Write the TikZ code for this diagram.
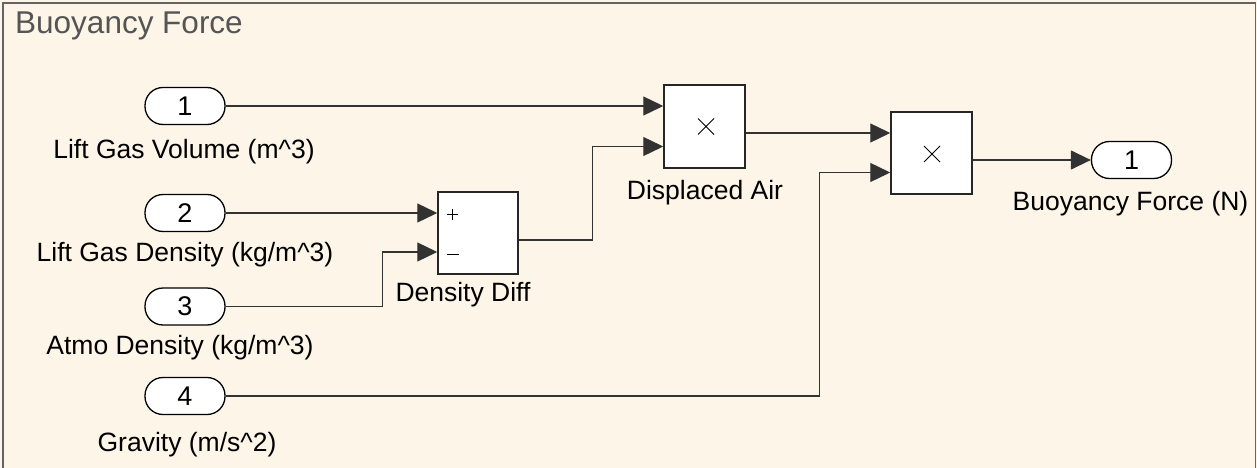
\documentclass[tikz,border=0pt]{standalone}
\usepackage{fontspec}
\setmainfont{Liberation Sans}
\usetikzlibrary{arrows.meta}
\definecolor{bgcream}{RGB}{253,245,231}
\definecolor{framegray}{RGB}{100,100,100}
\definecolor{titlegray}{RGB}{85,85,85}
\definecolor{wiregray}{RGB}{50,50,50}
\tikzset{
  port/.style={draw=black, line width=1.3pt, fill=white, rounded corners=18pt,
    minimum width=80pt, minimum height=37pt, inner sep=0pt,
    font=\fontsize{27}{31}\selectfont},
  blockbox/.style={draw=black!85, line width=1.5pt, fill=white, inner sep=0pt},
  lbl/.style={anchor=base, inner sep=0pt, font=\fontsize{26.5}{31}\selectfont},
  wire/.style={draw=wiregray, line width=1.3pt, -{Triangle[length=20pt,width=19pt]}},
  glyph/.style={draw=black, line width=0.9pt}
}
\begin{document}
\begin{tikzpicture}[x=1pt,y=-1pt]
\useasboundingbox (0,0) rectangle (1257,468);
\fill[bgcream] (0,0) rectangle (1257,468);
\draw[framegray, line width=1.6pt] (3,475) -- (3,2.8) -- (1255.6,2.8) -- (1255.6,475);
\node[anchor=base west, inner sep=0pt, text=titlegray, font=\fontsize{31.5}{36}\selectfont] (title) at (15,33.3) {Buoyancy Force};

% inports
\node[port] (in1) at (185,106) {1};
\node[port] (in2) at (185,213) {2};
\node[port] (in3) at (185,306.5) {3};
\node[port] (in4) at (185,396) {4};
\node[lbl] (l1) at (184,158) {Lift Gas Volume (m\textasciicircum 3)};
\node[lbl] (l2) at (185,261) {Lift Gas Density (kg/m\textasciicircum 3)};
\node[lbl] (l3) at (180,354.3) {Atmo Density (kg/m\textasciicircum 3)};
\node[lbl] (l4) at (187,451.7) {Gravity (m/s\textasciicircum 2)};

% blocks
\node[blockbox, minimum width=80pt, minimum height=82pt] (dd) at (478,233) {};
\node[blockbox, minimum width=81pt, minimum height=83pt] (da) at (704.5,126.5) {};
\node[blockbox, minimum width=81pt, minimum height=82pt] (pr) at (931.5,153) {};
\node[lbl] (ldd) at (463,301) {Density Diff};
\node[lbl] (lda) at (705,199.3) {Displaced Air};

% outport
\node[port] (out1) at (1131.5,160) {1};
\node[lbl] (lout) at (1130.5,210.7) {Buoyancy Force (N)};

% block glyphs
\draw[glyph] (446.5,214.5) -- (457.5,214.5) (452,209) -- (452,220);
\draw[glyph] (446.5,254) -- (458.5,254);
\draw[glyph] (698,118.5) -- (714,134.5) (698,134.5) -- (714,118.5);
\draw[glyph] (924,146) -- (940,162) (924,162) -- (940,146);

% ports
\coordinate (dd-in1) at (dd.west |- 0,213);
\coordinate (dd-in2) at (dd.west |- 0,252);
\coordinate (dd-out) at (dd.east |- 0,240);
\coordinate (da-in1) at (da.west |- 0,106);
\coordinate (da-in2) at (da.west |- 0,146.5);
\coordinate (da-out) at (da.east |- 0,133);
\coordinate (pr-in1) at (pr.west |- 0,133);
\coordinate (pr-in2) at (pr.west |- 0,172.5);
\coordinate (pr-out) at (pr.east |- 0,160);

% connectors
\draw[wire] (in1.east) -- (da-in1);
\draw[wire] (in2.east) -- (dd-in1);
\draw[wire] (in3.east) -- ++(157,0) |- (dd-in2);
\draw[wire] (dd-out) -- ++(74,0) |- (da-in2);
\draw[wire] (da-out) -- (pr-in1);
\draw[wire] (in4.east) -- ++(594,0) |- (pr-in2);
\draw[wire] (pr-out) -- (out1.west);
\end{tikzpicture}
\end{document}
